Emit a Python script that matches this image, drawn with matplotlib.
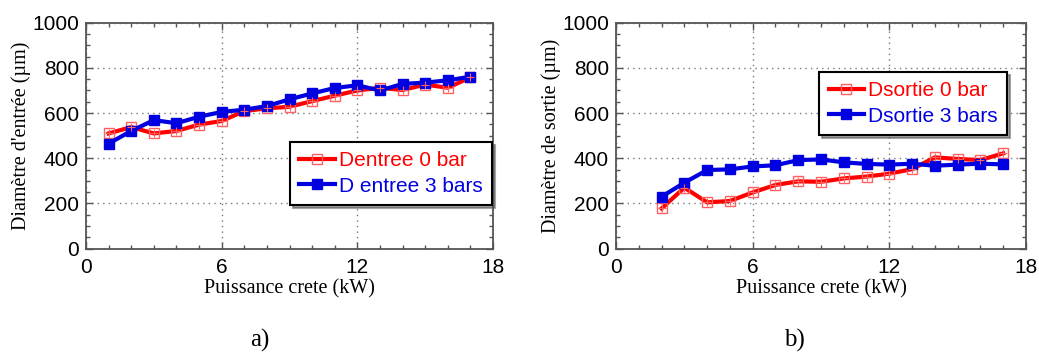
import numpy as np
import matplotlib
matplotlib.use("Agg")
import matplotlib.pyplot as plt
from matplotlib.ticker import MultipleLocator

# Puissance crete (kW)
x_entree = [1, 2, 3, 4, 5, 6, 7, 8, 9, 10, 11, 12, 13, 14, 15, 16, 17]
x_sortie = [2, 3, 4, 5, 6, 7, 8, 9, 10, 11, 12, 13, 14, 15, 16, 17]

# diametre d'entree (um)
d_entree_0bar = [510, 538, 510, 521, 549, 565, 609, 621, 628, 653, 677, 700, 712, 702, 726, 712, 758]
d_entree_3bar = [465, 521, 569, 555, 584, 605, 615, 631, 661, 687, 711, 723, 700, 729, 735, 745, 761]

# diametre de sortie (um)
d_sortie_0bar = [178, 270, 205, 211, 249, 282, 298, 296, 311, 319, 332, 352, 404, 397, 392, 422]
d_sortie_3bar = [230, 292, 348, 351, 364, 369, 392, 395, 382, 375, 372, 376, 367, 372, 376, 373]

labels_entree = ["Dentree 0 bar", "D entree 3 bars"]
labels_sortie = ["Dsortie 0 bar", "Dsortie 3 bars"]

RED = "#ff0000"
BLUE = "#0000e0"
FRAME = "#555555"

fig = plt.figure(figsize=(10.39, 3.54), dpi=100)

def setup_axes(ax, ylabel):
    ax.set_xlim(0, 18)
    ax.set_ylim(0, 1000)
    ax.xaxis.set_major_locator(MultipleLocator(6))
    ax.xaxis.set_minor_locator(MultipleLocator(1))
    ax.yaxis.set_major_locator(MultipleLocator(200))
    ax.yaxis.set_minor_locator(MultipleLocator(50))
    ax.tick_params(which="both", direction="in", top=True, right=True, color=FRAME)
    ax.tick_params(which="major", length=5, width=1)
    ax.tick_params(which="minor", length=3, width=1)
    ax.tick_params(axis="both", labelsize=15)
    ax.tick_params(axis="x", pad=7)
    ax.tick_params(axis="y", pad=5)
    for lab in ax.get_xticklabels() + ax.get_yticklabels():
        lab.set_family("Liberation Sans")
    for sp in ax.spines.values():
        sp.set_color(FRAME)
        sp.set_linewidth(1.3)
    ax.grid(True, which="major", linestyle=(0, (1, 3)), color="#777777", linewidth=1)
    ax.set_xlabel("Puissance crete (kW)", family="Liberation Serif", fontsize=14.5, labelpad=1.5)
    ax.set_ylabel(ylabel, family="Liberation Serif", fontsize=14.5, labelpad=1)

def plot_series(ax, x, y0, y3, labels):
    ax.plot(x, y0, color=RED, lw=3, marker="s", ms=7, mfc="none", mec="#ff6060",
            mew=1, label=labels[0], zorder=3)
    ax.plot(x, y0, color="none", marker="+", ms=6, mec="#ff6060", mew=0.8, zorder=4)
    ax.plot(x, y3, color=BLUE, lw=3, marker="s", ms=7, mfc=BLUE, mec=BLUE,
            label=labels[1], zorder=3)

def style_legend(leg):
    leg.get_frame().set_edgecolor("black")
    leg.get_frame().set_linewidth(1.5)
    for t, c in zip(leg.get_texts(), [RED, BLUE]):
        t.set_color(c)

legend_kw = dict(prop={"family": "Liberation Sans", "size": 15}, frameon=True,
                 fancybox=False, shadow=True, borderpad=0.45, handlelength=1.7,
                 handletextpad=0.2, labelspacing=0.3, borderaxespad=0)

ax1 = fig.add_axes([0.0828, 0.2975, 0.3917, 0.6384])
setup_axes(ax1, "Diamètre d'entrée (µm)")
plot_series(ax1, x_entree, d_entree_0bar, d_entree_3bar, labels_entree)
leg1 = ax1.legend(loc="upper right", bbox_to_anchor=(0.998, 0.472), **legend_kw)
style_legend(leg1)

ax2 = fig.add_axes([0.5929, 0.2975, 0.3946, 0.6384])
setup_axes(ax2, "Diamètre de sortie (µm)")
plot_series(ax2, x_sortie, d_sortie_0bar, d_sortie_3bar, labels_sortie)
leg2 = ax2.legend(loc="upper right", bbox_to_anchor=(0.954, 0.782), **legend_kw)
style_legend(leg2)

fig.text(0.250, 0.02, "a)", family="Liberation Serif", fontsize=18, ha="center")
fig.text(0.765, 0.02, "b)", family="Liberation Serif", fontsize=18, ha="center")

fig.savefig("out.png", dpi=100)
